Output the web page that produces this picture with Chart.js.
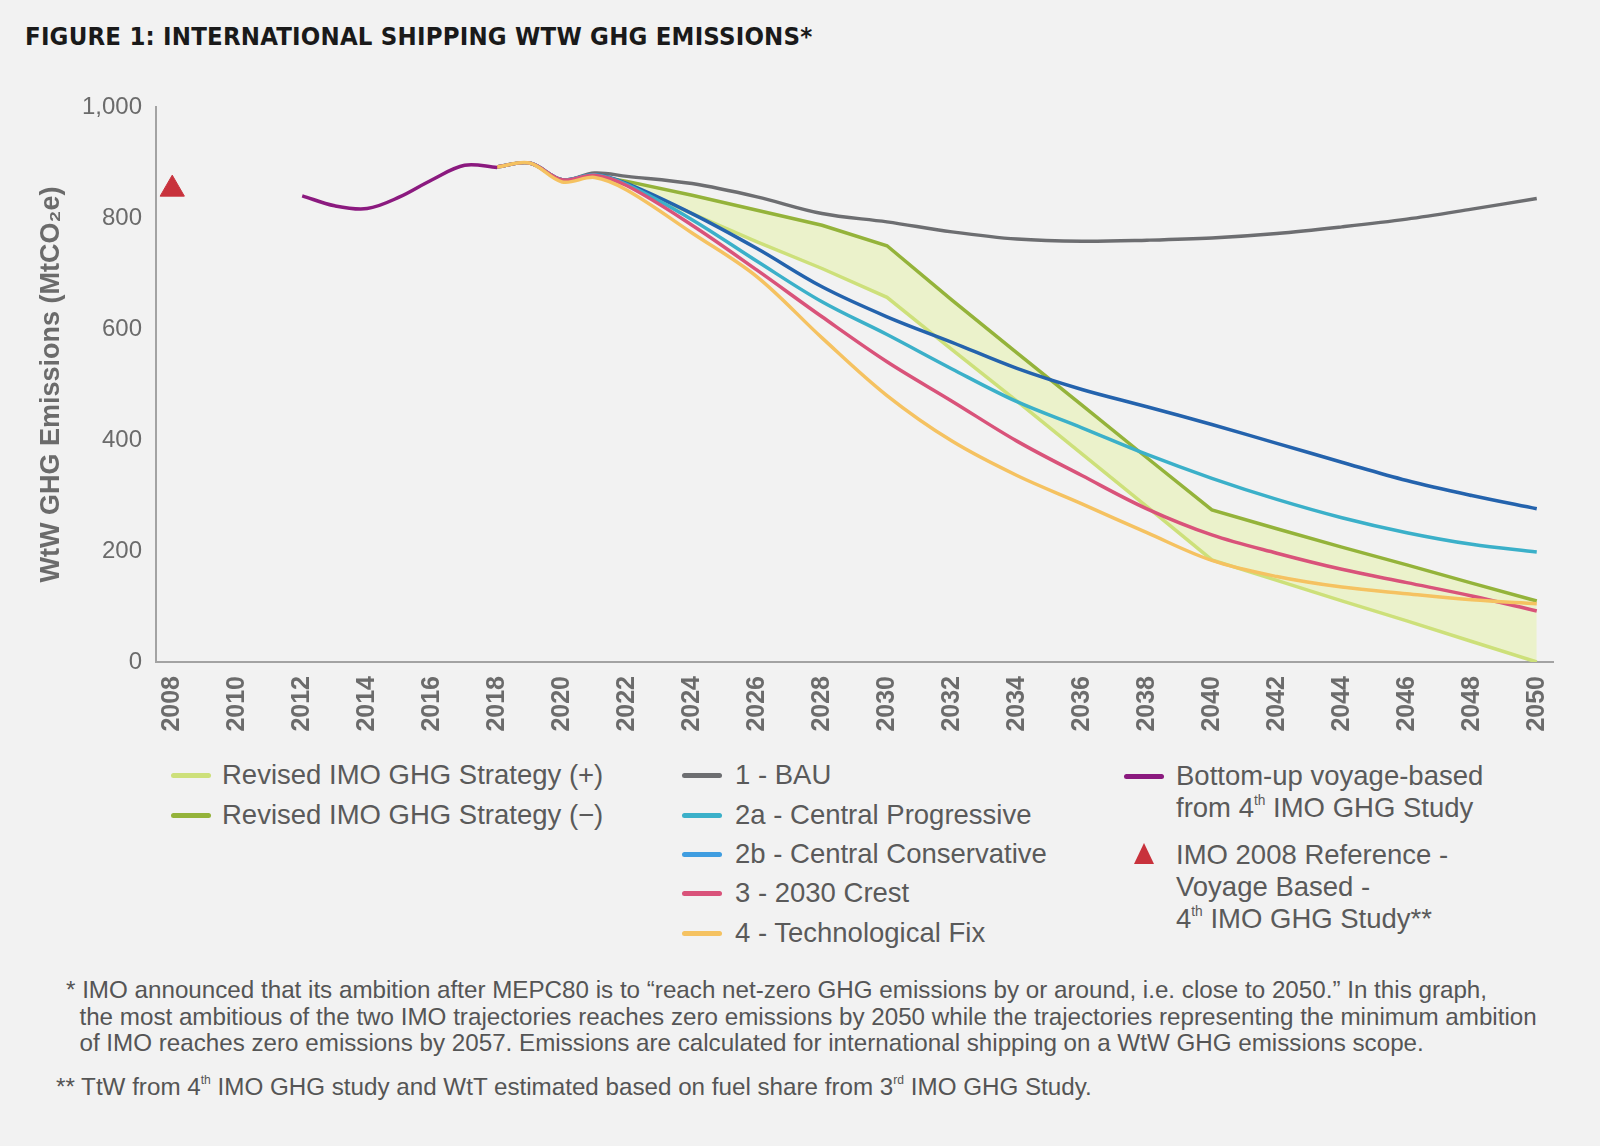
<!DOCTYPE html>
<html>
<head>
<meta charset="utf-8">
<script src="https://cdn.jsdelivr.net/npm/chart.js@4"></script>
<style>
  body { margin: 0; background: #f2f2f2; width: 1600px; height: 1146px; position: relative; overflow: hidden;
         font-family: "Liberation Sans", Arial, sans-serif; color: #5a5a5a; }
  #title { position: absolute; left: 25px; top: 21px; font-family: "DejaVu Sans Condensed", "DejaVu Sans", sans-serif;
           font-weight: bold; font-size: 25.5px; letter-spacing: 0.2px; color: #1a1a1a; white-space: nowrap; }
  #wrap { position: absolute; left: 0; top: 0; width: 1600px; height: 742px; }
  .leg { position: absolute; font-size: 27.5px; line-height: 32px; white-space: nowrap; }
  .sw { position: absolute; width: 40px; height: 5px; border-radius: 3px; }
  .tri { position: absolute; width: 0; height: 0; border-left: 10px solid transparent; border-right: 10px solid transparent;
         border-bottom: 21px solid #c8323c; }
  sup { font-size: 0.5em; vertical-align: 0.9em; line-height: 0; }
  .note { position: absolute; font-size: 24.2px; line-height: 26.5px; white-space: nowrap; color: #555; }
</style>
</head>
<body>
<div id="title">FIGURE 1: INTERNATIONAL SHIPPING WTW GHG EMISSIONS*</div>
<div id="wrap"><canvas id="chart" width="1600" height="742"></canvas></div>

<div class="sw" style="left:171px;top:773px;background:#cde07a"></div>
<div class="leg" style="left:222px;top:759px">Revised IMO GHG Strategy (+)</div>
<div class="sw" style="left:171px;top:813px;background:#94b33a"></div>
<div class="leg" style="left:222px;top:799px">Revised IMO GHG Strategy (&minus;)</div>

<div class="sw" style="left:682px;top:773px;background:#6d6e71"></div>
<div class="leg" style="left:735px;top:759px">1 - BAU</div>
<div class="sw" style="left:682px;top:813px;background:#3bb0c9"></div>
<div class="leg" style="left:735px;top:799px">2a - Central Progressive</div>
<div class="sw" style="left:682px;top:852px;background:#3f9de0"></div>
<div class="leg" style="left:735px;top:838px">2b - Central Conservative</div>
<div class="sw" style="left:682px;top:891px;background:#d9537a"></div>
<div class="leg" style="left:735px;top:877px">3 - 2030 Crest</div>
<div class="sw" style="left:682px;top:931px;background:#f5c261"></div>
<div class="leg" style="left:735px;top:917px">4 - Technological Fix</div>

<div class="sw" style="left:1124px;top:774px;background:#8b1a7f"></div>
<div class="leg" style="left:1176px;top:760px">Bottom-up voyage-based<br>from 4<sup>th</sup> IMO GHG Study</div>
<div class="tri" style="left:1134px;top:843px"></div>
<div class="leg" style="left:1176px;top:839px">IMO 2008 Reference -<br>Voyage Based -<br>4<sup>th</sup> IMO GHG Study**</div>

<div class="note" style="left:66px;top:977px">* IMO announced that its ambition after MEPC80 is to “reach net-zero GHG emissions by or around, i.e. close to 2050.” In this graph,<br>
&nbsp;&nbsp;the most ambitious of the two IMO trajectories reaches zero emissions by 2050 while the trajectories representing the minimum ambition<br>
&nbsp;&nbsp;of IMO reaches zero emissions by 2057. Emissions are calculated for international shipping on a WtW GHG emissions scope.</div>
<div class="note" style="left:56px;top:1074px">** TtW from 4<sup>th</sup> IMO GHG study and WtT estimated based on fuel share from 3<sup>rd</sup> IMO GHG Study.</div>

<script>
// tick labels on the x axis
const tickYears = [2008, 2010, 2012, 2014, 2016, 2018, 2020, 2022, 2024, 2026, 2028, 2030,
                   2032, 2034, 2036, 2038, 2040, 2042, 2044, 2046, 2048, 2050]

// modelled scenarios (MtCO2e)
const scenarioYears = [2018, 2019, 2020, 2021, 2022, 2024, 2026, 2028, 2030, 2032, 2034, 2036, 2038, 2040, 2042, 2044, 2046, 2048, 2050]
const bau = [892, 899, 869, 881, 875, 862, 838, 808, 793, 775, 762, 758, 760, 764, 772, 784, 798, 816, 835]
const centralConservative = [892, 899, 869, 878, 862, 808, 745, 676, 622, 576, 529, 491, 460, 428, 394, 360, 327, 300, 276]
const centralProgressive = [892, 899, 869, 878, 860, 797, 722, 649, 590, 528, 469, 422, 374, 331, 293, 260, 233, 212, 198]
const crest2030 = [892, 899, 869, 877, 858, 787, 706, 622, 541, 470, 398, 336, 276, 229, 196, 167, 143, 119, 92]
const techFix = [892, 899, 865, 873, 850, 773, 694, 584, 480, 398, 336, 285, 233, 183, 154, 135, 123, 112, 105]

// revised IMO strategy band
const strategyYears = [2021, 2022, 2024, 2026, 2028, 2030, 2032, 2034, 2036, 2038, 2040, 2042, 2044, 2046, 2048, 2050]
const strategyPlus = [876, 860, 808, 757, 709, 657, 563, 470, 375, 280, 184, 147, 110, 74, 37, 0]
const strategyMinus = [876, 866, 841, 814, 787, 750, 652, 557, 463, 368, 274, 240, 207, 175, 142, 110]

// bottom-up voyage based, 4th IMO GHG study
const voyageYears = [2012, 2013, 2014, 2015, 2016, 2017, 2018]
const voyage = [840, 822, 817, 838, 869, 895, 891]

// IMO 2008 reference
const referenceYears = [2008]
const reference = [852]

function pts(xs, ys) {
    return xs.map((x, i) => ({ x: x, y: ys[i] }))
}

function line(label, xs, ys, color, smooth) {
    return {
        label: label,
        data: pts(xs, ys),
        borderColor: color,
        backgroundColor: color,
        borderWidth: 3.5,
        pointRadius: 0,
        fill: false,
        tension: smooth ? 0.35 : 0
    }
}

const strategyPlusSet = line('Revised IMO GHG Strategy (+)', strategyYears, strategyPlus, '#cde07a', false)
strategyPlusSet.fill = '-1'
strategyPlusSet.backgroundColor = 'rgba(225, 242, 145, 0.4)'

const datasets = [
    {
        label: 'IMO 2008 Reference',
        data: pts(referenceYears, reference),
        showLine: false,
        pointStyle: 'triangle',
        pointRadius: 14,
        pointBackgroundColor: '#c8323c',
        pointBorderColor: '#c8323c'
    },
    line('Bottom-up voyage-based', voyageYears, voyage, '#8b1a7f', true),
    line('4 - Technological Fix', scenarioYears, techFix, '#f5c261', true),
    line('3 - 2030 Crest', scenarioYears, crest2030, '#d9537a', true),
    line('2a - Central Progressive', scenarioYears, centralProgressive, '#3bb0c9', true),
    line('2b - Central Conservative', scenarioYears, centralConservative, '#2463ad', true),
    line('1 - BAU', scenarioYears, bau, '#6d6e71', true),
    line('Revised IMO GHG Strategy (-)', strategyYears, strategyMinus, '#94b33a', false),
    strategyPlusSet
]

new Chart(document.getElementById('chart'), {
    type: 'line',
    data: { datasets: datasets },
    options: {
        responsive: false,
        animation: false,
        layout: { padding: { top: 107, right: 47, left: 0, bottom: 0 } },
        plugins: { legend: { display: false }, tooltip: { enabled: false } },
        scales: {
            x: {
                type: 'linear',
                min: 2007.5,
                max: 2050.5,
                afterBuildTicks: (s) => { s.ticks = tickYears.map(v => ({ value: v })) },
                afterFit: (s) => { s.height = 80 },
                grid: { display: false, drawTicks: false },
                border: { display: true, color: '#a3a3a3', width: 2 },
                ticks: {
                    autoSkip: false,
                    minRotation: 90,
                    maxRotation: 90,
                    padding: 14,
                    color: '#6b6b6b',
                    font: { family: 'Liberation Sans', size: 25, weight: 'bold' },
                    callback: (v) => String(v)
                }
            },
            y: {
                min: 0,
                max: 1000,
                afterFit: (s) => { s.width = 156 },
                grid: { display: false, drawTicks: false },
                border: { display: true, color: '#a3a3a3', width: 2 },
                ticks: {
                    stepSize: 200,
                    padding: 14,
                    color: '#6b6b6b',
                    font: { family: 'Liberation Sans', size: 24 }
                },
                title: {
                    display: true,
                    text: 'WtW GHG Emissions (MtCO₂e)',
                    color: '#6b6b6b',
                    font: { family: 'Liberation Sans', size: 27, weight: 'bold' },
                    padding: { top: 35, bottom: 0 }
                }
            }
        }
    }
})
</script>
</body>
</html>
